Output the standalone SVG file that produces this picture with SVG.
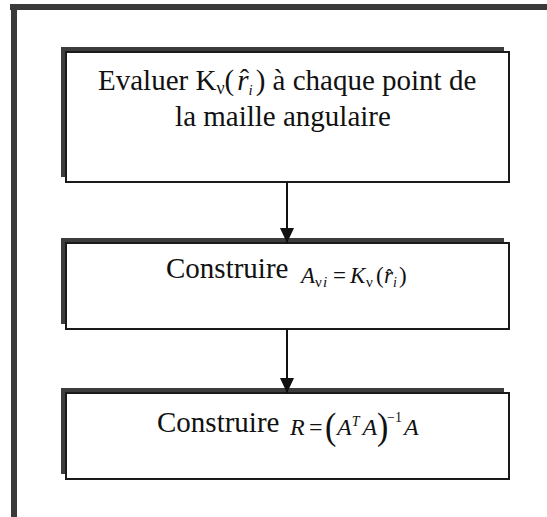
<svg xmlns="http://www.w3.org/2000/svg" width="547" height="517" viewBox="0 0 547 517">
<defs>
<style>
.t{font-family:"Liberation Serif","Times New Roman",serif;fill:#111;}
.m{font-family:"Liberation Serif","Times New Roman",serif;font-style:italic;fill:#111;}
.u{font-family:"Liberation Serif","Times New Roman",serif;font-style:normal;fill:#111;}
.box{fill:#fff;stroke:#1a1a1a;stroke-width:2;}
.sh{fill:#3c3c3c;}
.conn{stroke:#111;stroke-width:2;fill:none;}
</style>
<marker id="ah" markerWidth="15" markerHeight="14" refX="15" refY="7" orient="auto" markerUnits="userSpaceOnUse" viewBox="0 0 15 14">
<path d="M0,0 L15,7 L0,14 Z" fill="#111"/>
</marker>
</defs>
<rect width="547" height="517" fill="#fff"/>
<g id="frame">
<rect x="10" y="4" width="537" height="6" fill="#3a3a3a"/>
<rect x="11" y="4" width="6" height="513" fill="#3a3a3a"/>
</g>
<g id="node1">
<rect class="sh" x="61" y="47" width="443" height="130"/>
<rect class="box" x="66" y="52" width="443" height="130"/>
<text class="t" x="98" y="90" font-size="29">Evaluer K<tspan class="u" font-size="18" dy="4">ν</tspan><tspan dy="-4">(</tspan><tspan class="m" dx="3">r</tspan><tspan class="m" font-size="15" dy="5">i</tspan><tspan dy="-5" dx="3">) à chaque point de</tspan></text>
<text class="u" x="240" y="88" font-size="27">ˆ</text>
<text class="t" x="283" y="126" font-size="29" text-anchor="middle">la maille angulaire</text>
</g>
<g id="node2">
<rect class="sh" x="61" y="238" width="443" height="86"/>
<rect class="box" x="66" y="243" width="443" height="86"/>
<text class="t" x="166" y="278" font-size="29">Construire</text>
<text class="m" y="283" font-size="23"><tspan x="301">A</tspan><tspan class="u" x="315" font-size="15" dy="4">ν</tspan><tspan x="323" font-size="15">i</tspan><tspan class="u" x="333" dy="-4">=</tspan><tspan x="350">K</tspan><tspan class="u" x="366" font-size="15" dy="4">ν</tspan><tspan class="u" x="376" dy="-4">(</tspan><tspan x="384">r</tspan><tspan x="393" font-size="14" dy="4">i</tspan><tspan class="u" x="399" dy="-4">)</tspan></text>
<text class="u" x="386" y="282" font-size="19">ˆ</text>
</g>
<g id="node3">
<rect class="sh" x="61" y="388" width="443" height="86"/>
<rect class="box" x="66" y="393" width="443" height="86"/>
<text class="t" x="157" y="432" font-size="29">Construire</text>
<text class="m" y="435" font-size="24"><tspan x="290">R</tspan><tspan class="u" x="309">=</tspan></text>
<text class="u" x="325" y="438" font-size="34" transform="translate(0,-60) scale(1,1.14)">(</text>
<text class="m" x="337" y="435" font-size="24">A<tspan font-size="14" dy="-9">T</tspan><tspan dy="9" dx="3">A</tspan></text>
<text class="u" x="377" y="438" font-size="34" transform="translate(0,-60) scale(1,1.14)">)</text>
<text class="u" x="387" y="422" font-size="14">−1</text>
<text class="m" x="404" y="435" font-size="24">A</text>
</g>
<g id="connectors">
<line class="conn" x1="287" y1="182" x2="287" y2="243" marker-end="url(#ah)"/>
<line class="conn" x1="287" y1="329" x2="287" y2="393" marker-end="url(#ah)"/>
</g>
</svg>
